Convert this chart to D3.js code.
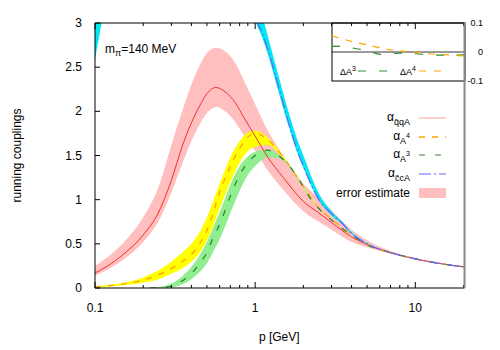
<!DOCTYPE html>
<html>
<head>
<meta charset="utf-8">
<script src="https://cdn.jsdelivr.net/npm/d3@7"></script>
<style>
  body { margin: 0; background: #fff; }
  svg text { font-family: "Liberation Sans", Arial, sans-serif; fill: #000; }
</style>
</head>
<body>
<svg id="chart" width="500" height="350"></svg>
<script>
// momentum grid (GeV) and curves
var pRed = [0.1,0.12,0.15,0.2,0.25,0.3,0.35,0.4,0.45,0.5,0.57,0.65,0.75,0.85,1.0,1.2,1.5,2,2.5,3,4,5,7,10,15,20];
var redMid = [0.17,0.25,0.38,0.60,0.86,1.22,1.60,1.87,2.06,2.2,2.27,2.22,2.1,1.93,1.72,1.48,1.25,0.98,0.85,0.74,0.58,0.49,0.40,0.33,0.27,0.24];
var redLo  = [0.14,0.21,0.32,0.52,0.76,1.08,1.40,1.66,1.85,1.98,2.05,2.0,1.88,1.73,1.55,1.33,1.11,0.87,0.75,0.66,0.52,0.46,0.39,0.32,0.27,0.24];
var redHi  = [0.25,0.35,0.51,0.80,1.15,1.62,2.0,2.3,2.52,2.66,2.72,2.68,2.55,2.35,2.08,1.78,1.5,1.18,1.02,0.88,0.66,0.54,0.42,0.34,0.28,0.24];

var pOr = [0.1,0.12,0.15,0.2,0.25,0.3,0.35,0.4,0.45,0.5,0.6,0.7,0.8,0.9,1.0,1.2,1.5,2,2.5,3,4,5,7,10,15,20];
var orMid = [0.01,0.025,0.045,0.09,0.15,0.22,0.3,0.38,0.5,0.65,1.08,1.38,1.58,1.71,1.75,1.68,1.48,1.15,0.9,0.78,0.6,0.49,0.40,0.33,0.27,0.24];
var orLo  = [0.005,0.015,0.03,0.06,0.1,0.16,0.22,0.3,0.4,0.54,0.9,1.2,1.42,1.55,1.6,1.62,1.46,1.14,0.9,0.78,0.6,0.49,0.40,0.33,0.27,0.24];
var orHi  = [0.02,0.035,0.06,0.12,0.2,0.3,0.4,0.5,0.63,0.8,1.18,1.48,1.66,1.76,1.78,1.7,1.49,1.16,0.91,0.78,0.6,0.49,0.40,0.33,0.27,0.24];

var pGr = [0.22,0.25,0.3,0.35,0.4,0.45,0.5,0.55,0.6,0.65,0.7,0.8,0.9,1.0,1.2,1.4,1.6,1.8,2.2,2.5,3,4,5,7,10,15,20];
var grMid = [0,0.003,0.02,0.08,0.16,0.28,0.4,0.58,0.72,0.88,1.04,1.28,1.42,1.5,1.56,1.5,1.4,1.28,1.02,0.9,0.77,0.6,0.49,0.40,0.33,0.27,0.24];
var grLo  = [0,0,0.005,0.04,0.1,0.18,0.28,0.42,0.55,0.7,0.85,1.1,1.28,1.38,1.48,1.47,1.39,1.27,1.02,0.9,0.77,0.6,0.49,0.40,0.33,0.27,0.24];
var grHi  = [0,0.01,0.05,0.13,0.24,0.37,0.52,0.7,0.86,1.02,1.17,1.38,1.49,1.54,1.57,1.51,1.41,1.29,1.03,0.9,0.77,0.6,0.49,0.40,0.33,0.27,0.24];

var pBl = [0.1,0.11,0.125,0.9,1.0,1.1,1.2,1.4,1.6,1.8,2.0,2.5,3,3.5,4,5,7,10,15,20];
var blMid = [3.3,3.8,4.5,4.0,3.1,2.9,2.7,2.28,1.9,1.6,1.38,1.0,0.84,0.73,0.62,0.5,0.40,0.33,0.27,0.24];
var blLo  = [2.58,3.0,3.5,3.6,3.05,2.85,2.65,2.22,1.86,1.57,1.36,0.99,0.82,0.72,0.61,0.5,0.40,0.33,0.27,0.24];
var blHi  = [3.4,4.0,5.0,4.5,3.3,3.1,2.85,2.4,2.02,1.72,1.5,1.07,0.87,0.75,0.63,0.51,0.40,0.33,0.27,0.24];

// inset: differences at high momentum
var pIn = [3,3.5,4,5,6,7,8,10,12,15,20];
var dA4 = [0.056,0.045,0.036,0.024,0.014,0.007,0.003,-0.001,-0.006,-0.009,-0.014];
var dA3 = [0.02,0.019,0.014,0.004,-0.008,-0.006,-0.004,-0.006,-0.01,-0.011,-0.01];

var yTicks = [0,0.5,1,1.5,2,2.5,3];
var xMajor = [0.1,1,10];
var xMinor = [0.2,0.3,0.4,0.5,0.6,0.7,0.8,0.9,2,3,4,5,6,7,8,9,20];
var insetTicks = [0.1,0,-0.1];

var svg = d3.select("#chart");
var pLeft = 95, pRight = 463.5, pTop = 23, pBottom = 288;

var x = d3.scaleLog().domain([0.1,20]).range([pLeft,pRight]);
var y = d3.scaleLinear().domain([0,3]).range([pBottom,pTop]);

svg.append("defs").append("clipPath").attr("id","clip")
  .append("rect").attr("x",pLeft).attr("y",pTop).attr("width",pRight-pLeft+1).attr("height",pBottom-pTop);

var plot = svg.append("g").attr("clip-path","url(#clip)");

function zip(ps, lo, hi){ return ps.map(function(p,i){ return {p:p, lo:lo[i], hi:hi[i]}; }); }
function pts(ps, v){ return ps.map(function(p,i){ return {p:p, v:v[i]}; }); }

var area = d3.area().curve(d3.curveMonotoneX)
  .x(function(d){ return x(d.p); })
  .y0(function(d){ return y(d.lo); })
  .y1(function(d){ return y(d.hi); });
var line = d3.line().curve(d3.curveMonotoneX)
  .x(function(d){ return x(d.p); })
  .y(function(d){ return y(d.v); });

// bands
plot.append("path").datum(zip(pRed,redLo,redHi)).attr("d",area).attr("fill","#ffbfbf");
plot.append("path").datum(zip(pBl,blLo,blHi)).attr("d",area).attr("fill","#00e8f0");
plot.append("path").datum(zip(pOr,orLo,orHi)).attr("d",area).attr("fill","#ffff00");
plot.append("path").datum(zip(pGr,grLo,grHi)).attr("d",area).attr("fill","#90ee90");

// central lines
var series = [
  {p:pRed, v:redMid, color:"#f03030", dash:null, w:1},
  {p:pOr, v:orMid, color:"#ffa500", dash:"6,7", w:1.3},
  {p:pGr, v:grMid, color:"#2e7d2e", dash:"6,10", w:1.2},
  {p:pBl, v:blMid, color:"#6464ff", dash:"12,3,2,3", w:1.2}
];
series.forEach(function(s){
  plot.append("path").datum(pts(s.p,s.v)).attr("d",line)
    .attr("fill","none").attr("stroke",s.color).attr("stroke-width",s.w)
    .attr("stroke-dasharray",s.dash);
});

// inset
var ix0 = 332, ix1 = 465, iy0 = 23, iy1 = 81;
var xi = d3.scaleLog().domain([3,20]).range([ix0,ix1]);
var yi = d3.scaleLinear().domain([-0.1,0.1]).range([iy1,iy0]);
svg.append("rect").attr("x",ix0).attr("y",iy0).attr("width",ix1-ix0).attr("height",iy1-iy0)
  .attr("fill","#fff").attr("stroke","#000").attr("stroke-width",1);
svg.append("clipPath").attr("id","clipIn").append("rect")
  .attr("x",ix0).attr("y",iy0).attr("width",ix1-ix0).attr("height",iy1-iy0);
var inset = svg.append("g").attr("clip-path","url(#clipIn)");
inset.append("line").attr("x1",ix0).attr("x2",ix1).attr("y1",yi(0)).attr("y2",yi(0))
  .attr("stroke","#000").attr("stroke-width",0.8);
var lineIn = d3.line().curve(d3.curveMonotoneX)
  .x(function(d){ return xi(d.p); }).y(function(d){ return yi(d.v); });
inset.append("path").datum(pts(pIn,dA3)).attr("d",lineIn).attr("fill","none")
  .attr("stroke","#2e8b2e").attr("stroke-width",1.2).attr("stroke-dasharray","8,13");
inset.append("path").datum(pts(pIn,dA4)).attr("d",lineIn).attr("fill","none")
  .attr("stroke","#ffa500").attr("stroke-width",1.2).attr("stroke-dasharray","7,7");
insetTicks.forEach(function(t){
  svg.append("text").attr("x",483).attr("y",yi(t)+3).attr("text-anchor","end")
    .style("font-size","9px").text(t);
});
var d3l = svg.append("text").attr("x",340).attr("y",75).style("font-size","9px");
d3l.append("tspan").text("ΔA");
d3l.append("tspan").attr("dy",-4).style("font-size","7px").text("3");
svg.append("line").attr("x1",358).attr("x2",388).attr("y1",71).attr("y2",71)
  .attr("stroke","#2e8b2e").attr("stroke-width",1.2).attr("stroke-dasharray","8,13");
var d4l = svg.append("text").attr("x",400).attr("y",75).style("font-size","9px");
d4l.append("tspan").text("ΔA");
d4l.append("tspan").attr("dy",-4).style("font-size","7px").text("4");
svg.append("line").attr("x1",419).attr("x2",441).attr("y1",71).attr("y2",71)
  .attr("stroke","#ffa500").attr("stroke-width",1.2).attr("stroke-dasharray","7,8");

// frame and ticks (drawn over the inset, as in the original)
var frame = svg.append("g").attr("stroke","#000").attr("stroke-width",1);
frame.append("line").attr("x1",pLeft).attr("x2",pLeft).attr("y1",pTop).attr("y2",pBottom);
frame.append("line").attr("x1",pLeft).attr("x2",pRight+1).attr("y1",pBottom).attr("y2",pBottom);
frame.append("line").attr("x1",pLeft).attr("x2",pRight+1).attr("y1",pTop).attr("y2",pTop);

yTicks.forEach(function(t){
  frame.append("line").attr("x1",pLeft).attr("x2",pLeft+5).attr("y1",y(t)).attr("y2",y(t));
  svg.append("text").attr("x",pLeft-13).attr("y",y(t)+4).attr("text-anchor","end")
    .style("font-size","12px").text(t);
});
xMajor.forEach(function(t){
  frame.append("line").attr("x1",x(t)).attr("x2",x(t)).attr("y1",pBottom).attr("y2",pBottom-6);
  frame.append("line").attr("x1",x(t)).attr("x2",x(t)).attr("y1",pTop).attr("y2",pTop+6);
  svg.append("text").attr("x",x(t)).attr("y",pBottom+24).attr("text-anchor","middle")
    .style("font-size","12px").text(t);
});
xMinor.forEach(function(t){
  frame.append("line").attr("x1",x(t)).attr("x2",x(t)).attr("y1",pBottom).attr("y2",pBottom-3);
  frame.append("line").attr("x1",x(t)).attr("x2",x(t)).attr("y1",pTop).attr("y2",pTop+3);
});

svg.append("text").attr("x",(pLeft+pRight)/2).attr("y",341).attr("text-anchor","middle")
  .style("font-size","12px").text("p [GeV]");
svg.append("text").attr("transform","translate(21,"+((pTop+pBottom)/2)+") rotate(-90)")
  .attr("text-anchor","middle").style("font-size","12px").text("running couplings");

// m_pi label
var lab = svg.append("text").attr("x",105).attr("y",53).style("font-size","12px");
lab.append("tspan").text("m");
lab.append("tspan").attr("dy",3).style("font-size","9px").text("π");
lab.append("tspan").attr("dy",-3).text("=140 MeV");

// legend
var legY = [118,137,155,174,193];
var legX = 410, sx0 = 419, sx1 = 446;
function alphaLabel(yy, sub, sup){
  var t = svg.append("text").attr("x",legX).attr("y",yy+3).attr("text-anchor","end").style("font-size","12px");
  t.append("tspan").text("α");
  t.append("tspan").attr("dy",4).style("font-size","9px").text(sub);
  if (sup) t.append("tspan").attr("dy",-6).style("font-size","7px").text(sup);
}
alphaLabel(legY[0], "q\u0304qA");
alphaLabel(legY[1], "A", "4");
alphaLabel(legY[2], "A", "3");
alphaLabel(legY[3], "c\u0304cA");
svg.append("text").attr("x",legX).attr("y",legY[4]+4).attr("text-anchor","end")
  .style("font-size","12px").text("error estimate");
series.forEach(function(s,i){
  svg.append("line").attr("x1",sx0).attr("x2",sx1).attr("y1",legY[i]).attr("y2",legY[i])
    .attr("stroke",i==0 ? "#ff9a9a" : s.color).attr("stroke-width",s.w).attr("stroke-dasharray",s.dash);
});
svg.append("rect").attr("x",sx0).attr("y",legY[4]-5).attr("width",sx1-sx0).attr("height",10).attr("fill","#ffbfbf");

// right border (grey in the original)
svg.append("line").attr("x1",pRight+1).attr("x2",pRight+1).attr("y1",pTop).attr("y2",pBottom)
  .attr("stroke","#888").attr("stroke-width",2);
</script>
</body>
</html>
